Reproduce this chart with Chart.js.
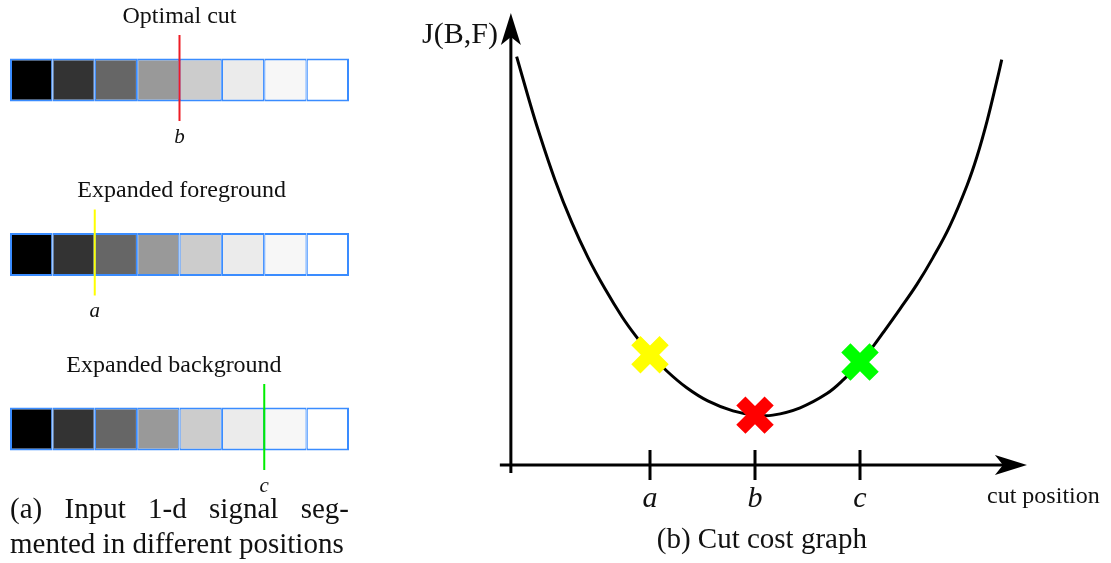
<!DOCTYPE html>
<html>
<head>
<meta charset="utf-8">
<title>Cut cost graph</title>
<script src="https://cdn.jsdelivr.net/npm/chart.js@4.4.1/dist/chart.umd.min.js"></script>
<style>
  html, body { margin: 0; padding: 0; background: #fff; }
  #wrap { position: relative; width: 1111px; height: 563px; overflow: hidden; }
  #signals { position: absolute; left: 0; top: 0; }
  #cost { position: absolute; left: 360px; top: 0; }
</style>
</head>
<body>
<div id="wrap">
  <canvas id="signals" width="360" height="563"></canvas>
  <canvas id="cost" width="751" height="563"></canvas>
</div>
<script>
// ---- data ----
// grey level of the 8 samples of the 1-d signal (0 = black, 1 = white)
const signal = [0, 0.2, 0.4, 0.6, 0.8, 0.92, 0.97, 1.0];

// the three segmented copies of the signal, top to bottom
const rowTitles = ['Optimal cut', 'Expanded foreground', 'Expanded background'];
const rowLevels = [3, 2, 1];
const rowCuts = [4, 2, 6];
const rowCutNames = ['b', 'a', 'c'];

// cost J(B,F) against cut position
const curveX = [-0.54, -0.32, -0.13, 0.19, 0.51, 0.82, 1.14, 1.47, 1.75, 2.0, 2.32, 2.70, 3.10, 3.58, 4.0,
                4.34, 4.86, 5.37, 5.68, 6.0, 6.25, 6.44, 6.76, 7.09, 7.39, 7.71, 8.04, 8.23, 8.42, 8.61, 8.70];
const curveY = [7.78, 7.01, 6.38, 5.43, 4.62, 3.95, 3.36, 2.82, 2.43, 2.12, 1.79, 1.47, 1.22, 1.03, 0.95,
                0.95, 1.09, 1.36, 1.62, 1.96, 2.26, 2.52, 2.97, 3.45, 3.95, 4.55, 5.33, 5.88, 6.55, 7.33, 7.72];

// the three cuts marked on the curve
const markNames = ['a', 'b', 'c'];
const markX = [2, 4, 6];
const markY = [2.1, 0.95, 1.96];

// ---- styles ----
const SERIF = '"Liberation Serif", "DejaVu Serif", serif';
const cellBorder = '#3a8cff';
const cutColors = { a: '#ffff00', b: '#ee1c25', c: '#00ee00' };
const markColors = { a: '#ffff00', b: '#ff0000', c: '#00ff00' };

function grey(g)
{
    const v = Math.round(g * 255);
    return `rgb(${v}, ${v}, ${v})`;
}

// spread the words of a line so it fills left..right
function justify(ctx, words, left, right, y)
{
    const widths = words.map(w => ctx.measureText(w).width);
    const total = widths.reduce((a, b) => a + b, 0);
    const gap = (right - left - total) / (words.length - 1);
    let x = left;
    words.forEach((w, i) => {
        ctx.fillText(w, x, y);
        x += widths[i] + gap;
    });
}

// ---- left panel: the three segmented signals ----
const cellData = [];
rowLevels.forEach(level => {
    signal.forEach((g, i) => cellData.push({ x: [i, i + 1], y: level, g: g }));
});

const cutSets = rowCuts.map((cut, r) => ({
    type: 'line',
    data: [{ x: cut, y: rowLevels[r] + 0.258 }, { x: cut, y: rowLevels[r] - 0.235 }],
    borderColor: cutColors[rowCutNames[r]],
    borderWidth: 2,
    pointRadius: 0,
    order: 0
}));

const signalText = {
    id: 'signalText',
    afterDraw(chart) {
        const { ctx, scales: { x, y } } = chart;
        const titleAt = [4, 4.05, 3.87];
        ctx.save();
        ctx.fillStyle = '#111';
        ctx.textAlign = 'center';
        ctx.textBaseline = 'alphabetic';
        rowLevels.forEach((level, r) => {
            const cy = y.getPixelForValue(level);
            ctx.font = `24px ${SERIF}`;
            ctx.fillText(rowTitles[r], x.getPixelForValue(titleAt[r]), cy - 57);
            ctx.font = `italic 21px ${SERIF}`;
            ctx.fillText(rowCutNames[r], x.getPixelForValue(rowCuts[r]), cy + 63);
        });
        ctx.textAlign = 'left';
        ctx.font = `29px ${SERIF}`;
        const left = x.getPixelForValue(0);
        const right = x.getPixelForValue(signal.length);
        justify(ctx, ['(a)', 'Input', '1-d', 'signal', 'seg-'], left, right, 518);
        ctx.fillText('mented in different positions', left, 553);
        ctx.restore();
    }
};

new Chart(document.getElementById('signals').getContext('2d'), {
    type: 'bar',
    data: {
        datasets: [
            {
                data: cellData,
                indexAxis: 'y',
                barThickness: 43,
                backgroundColor: c => grey(c.raw ? c.raw.g : 1),
                borderColor: cellBorder,
                borderWidth: c => ({
                    top: 2, bottom: 2,
                    left: c.dataIndex % signal.length === 0 ? 2 : 1.2,
                    right: c.dataIndex % signal.length === signal.length - 1 ? 2 : 1.2
                }),
                borderSkipped: false,
                inflateAmount: 0,
                order: 1
            },
            ...cutSets
        ]
    },
    options: {
        responsive: false,
        animation: false,
        indexAxis: 'y',
        layout: { autoPadding: false, padding: { left: 10, right: 11, top: 0, bottom: 0 } },
        scales: {
            x: { type: 'linear', min: 0, max: 8, offset: false, bounds: 'data', display: false },
            y: { type: 'linear', min: 0.232, max: 3.458, offset: false, bounds: 'data', display: false,
                 grid: { offset: false } }
        },
        plugins: { legend: { display: false }, tooltip: { enabled: false } }
    },
    plugins: [signalText]
});

// ---- right panel: the cost curve ----
const costAxes = {
    id: 'costAxes',
    beforeDatasetsDraw(chart) {
        const { ctx, scales: { x, y } } = chart;
        const ax = x.getPixelForValue(-0.65);
        const ay = y.getPixelForValue(0);
        const xStart = x.getPixelForValue(-0.86);
        const xTip = x.getPixelForValue(9.18);
        const yStart = y.getPixelForValue(-0.15);
        const yTip = y.getPixelForValue(8.61);
        ctx.save();
        ctx.strokeStyle = '#000';
        ctx.fillStyle = '#000';
        ctx.lineWidth = 3;
        ctx.beginPath();
        ctx.moveTo(ax, yStart);
        ctx.lineTo(ax, yTip + 20);
        ctx.moveTo(xStart, ay);
        ctx.lineTo(xTip - 20, ay);
        markX.forEach(m => {
            const px = x.getPixelForValue(m);
            ctx.moveTo(px, ay - 15);
            ctx.lineTo(px, ay + 15);
        });
        ctx.stroke();
        // arrow heads
        ctx.beginPath();
        ctx.moveTo(ax, yTip);
        ctx.lineTo(ax - 10, yTip + 32);
        ctx.lineTo(ax, yTip + 24);
        ctx.lineTo(ax + 10, yTip + 32);
        ctx.closePath();
        ctx.moveTo(xTip, ay);
        ctx.lineTo(xTip - 32, ay - 10);
        ctx.lineTo(xTip - 24, ay);
        ctx.lineTo(xTip - 32, ay + 10);
        ctx.closePath();
        ctx.fill();
        ctx.restore();
    },
    afterDraw(chart) {
        const { ctx, scales: { x, y } } = chart;
        const ay = y.getPixelForValue(0);
        ctx.save();
        ctx.fillStyle = '#111';
        ctx.textBaseline = 'alphabetic';
        ctx.textAlign = 'center';
        ctx.font = `italic 30px ${SERIF}`;
        markNames.forEach((n, i) => ctx.fillText(n, x.getPixelForValue(markX[i]), ay + 42));
        ctx.font = `29px ${SERIF}`;
        ctx.fillText('(b) Cut cost graph', x.getPixelForValue(4.13), 548);
        ctx.textAlign = 'right';
        ctx.font = `30px ${SERIF}`;
        ctx.fillText('J(B,F)', x.getPixelForValue(-0.65) - 13, 43);
        ctx.textAlign = 'left';
        ctx.font = `24px ${SERIF}`;
        ctx.fillText('cut position', x.getPixelForValue(8.42), ay + 38);
        ctx.restore();
    }
};

new Chart(document.getElementById('cost').getContext('2d'), {
    type: 'line',
    data: {
        datasets: [
            {
                label: 'J(B,F)',
                data: curveX.map((v, i) => ({ x: v, y: curveY[i] })),
                borderColor: '#000',
                borderWidth: 3,
                pointRadius: 0,
                tension: 0.4,
                fill: false,
                clip: false,
                order: 1
            },
            {
                label: 'cuts',
                data: markX.map((v, i) => ({ x: v, y: markY[i] })),
                showLine: false,
                pointStyle: 'crossRot',
                pointRadius: 20,
                pointBorderWidth: 13,
                pointBorderColor: markNames.map(n => markColors[n]),
                pointBackgroundColor: markNames.map(n => markColors[n]),
                clip: false,
                order: 0
            }
        ]
    },
    options: {
        responsive: false,
        animation: false,
        layout: { autoPadding: false, padding: { left: 137.75, right: 72.5, top: 3, bottom: 82.25 } },
        scales: {
            x: { type: 'linear', min: -0.9, max: 9.4, bounds: 'data', display: false },
            y: { type: 'linear', min: -0.3, max: 8.8, bounds: 'data', display: false }
        },
        plugins: { legend: { display: false }, tooltip: { enabled: false } }
    },
    plugins: [costAxes]
});
</script>
</body>
</html>
